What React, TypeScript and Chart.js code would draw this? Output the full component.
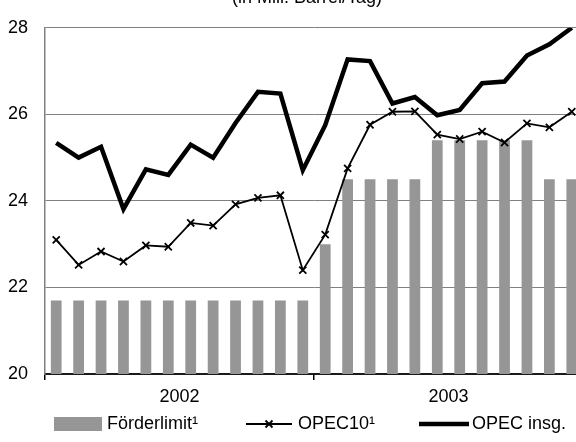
import React, { useEffect, useRef } from 'react';
import { Chart, registerables } from 'chart.js';

Chart.register(...registerables);

const months = [
  'Jan 02', 'Feb 02', 'Mär 02', 'Apr 02', 'Mai 02', 'Jun 02', 'Jul 02', 'Aug 02', 'Sep 02', 'Okt 02', 'Nov 02', 'Dez 02',
  'Jan 03', 'Feb 03', 'Mär 03', 'Apr 03', 'Mai 03', 'Jun 03', 'Jul 03', 'Aug 03', 'Sep 03', 'Okt 03', 'Nov 03', 'Dez 03',
];
const yearLabels = ['2002', '2003'];
const foerderlimit = [
  21.7, 21.7, 21.7, 21.7, 21.7, 21.7, 21.7, 21.7, 21.7, 21.7, 21.7, 21.7,
  23.0, 24.5, 24.5, 24.5, 24.5, 25.4, 25.4, 25.4, 25.4, 25.4, 24.5, 24.5,
];
const opec10 = [
  23.1, 22.52, 22.83, 22.6, 22.97, 22.94, 23.49, 23.43, 23.92, 24.07, 24.13, 22.4,
  23.22, 24.75, 25.76, 26.06, 26.07, 25.53, 25.43, 25.6, 25.35, 25.79, 25.7, 26.06,
];
const opecInsg = [
  25.34, 25.0, 25.25, 23.81, 24.73, 24.6, 25.3, 25.0, 25.8, 26.52, 26.48, 24.71,
  25.75, 27.27, 27.23, 26.25, 26.4, 25.98, 26.1, 26.72, 26.76, 27.36, 27.62, 28.0,
];
const yMin = 20;
const yMax = 28;
const yStep = 2;
const titleText = '(in Mill. Barrel/Tag)';
const legendLabels = ['Förderlimit¹', 'OPEC10¹', 'OPEC insg.'];

const FONT = '"Liberation Sans", Arial, Helvetica, sans-serif';
const FS = 18;
const BAR = '#969696';

const titlePlugin = {
  id: 'customTitle',
  afterDraw(chart: any) {
    const { ctx } = chart;
    ctx.save();
    ctx.font = `${FS}px ${FONT}`;
    ctx.fillStyle = '#000';
    ctx.textAlign = 'center';
    ctx.textBaseline = 'alphabetic';
    ctx.fillText(titleText, 307, 2.5);
    ctx.restore();
  },
};

const legendPlugin = {
  id: 'customLegend',
  afterDraw(chart: any) {
    const { ctx } = chart;
    const y = 424;
    ctx.save();
    ctx.font = `${FS}px ${FONT}`;
    ctx.textAlign = 'left';
    ctx.textBaseline = 'middle';
    ctx.fillStyle = BAR;
    ctx.fillRect(54, y - 7, 48, 14);
    ctx.fillStyle = '#000';
    ctx.fillText(legendLabels[0], 107, y);
    ctx.strokeStyle = '#000';
    ctx.lineWidth = 1.8;
    ctx.beginPath();
    ctx.moveTo(246, y);
    ctx.lineTo(292, y);
    ctx.stroke();
    ctx.beginPath();
    ctx.moveTo(265.5, y - 3.5);
    ctx.lineTo(272.5, y + 3.5);
    ctx.moveTo(272.5, y - 3.5);
    ctx.lineTo(265.5, y + 3.5);
    ctx.stroke();
    ctx.fillText(legendLabels[1], 298, y);
    ctx.lineWidth = 4.5;
    ctx.beginPath();
    ctx.moveTo(419, y);
    ctx.lineTo(469, y);
    ctx.stroke();
    ctx.fillText(legendLabels[2], 472, y);
    ctx.restore();
  },
};

export default function App() {
  const ref = useRef<HTMLCanvasElement | null>(null);

  useEffect(() => {
    if (!ref.current) return;
    const chart = new Chart(ref.current, {
      type: 'bar',
      data: {
        labels: months,
        datasets: [
          {
            type: 'line',
            label: legendLabels[2],
            data: opecInsg,
            borderColor: '#000',
            borderWidth: 4.5,
            pointRadius: 0,
            tension: 0,
            order: 0,
          } as any,
          {
            type: 'line',
            label: legendLabels[1],
            data: opec10,
            borderColor: '#000',
            borderWidth: 1.8,
            pointStyle: 'crossRot',
            pointRadius: 5,
            pointBorderWidth: 1.8,
            pointBorderColor: '#000',
            tension: 0,
            order: 1,
          } as any,
          {
            type: 'bar',
            label: legendLabels[0],
            data: foerderlimit,
            backgroundColor: BAR,
            categoryPercentage: 1,
            barPercentage: 0.48,
            order: 2,
          } as any,
        ],
      },
      options: {
        responsive: false,
        animation: false,
        layout: { padding: { left: 0, right: 17, top: 21, bottom: 0 } },
        plugins: {
          legend: { display: false },
          title: { display: false },
          tooltip: { enabled: false },
        },
        scales: {
          x: {
            type: 'category',
            offset: true,
            afterFit(scale: any) {
              scale.height = 442 - 374;
            },
            ticks: {
              autoSkip: false,
              maxRotation: 0,
              minRotation: 0,
              padding: 6,
              labelOffset: 11.2,
              color: '#000',
              font: { family: FONT, size: FS },
              callback: (_v: any, i: number) => (i === 5 ? yearLabels[0] : i === 17 ? yearLabels[1] : ''),
            },
            grid: {
              offset: true,
              drawOnChartArea: false,
              drawTicks: true,
              tickLength: 6,
              lineWidth: 1.5,
              color: (c: any) => (c.index === 0 || c.index === 12 || c.index === 24 ? '#000' : 'rgba(0,0,0,0)'),
            },
            border: { display: true, color: '#1a1a1a', width: 2 },
          },
          y: {
            min: yMin,
            max: yMax,
            afterFit(scale: any) {
              scale.width = 45;
            },
            ticks: {
              stepSize: yStep,
              padding: 17,
              color: '#000',
              font: { family: FONT, size: FS },
            },
            grid: {
              drawTicks: false,
              lineWidth: 1,
              color: (c: any) => (c.tick && c.tick.value === yMin ? 'rgba(0,0,0,0)' : '#808080'),
            },
            border: { display: true, color: '#808080', width: 1.5 },
          },
        },
      },
      plugins: [titlePlugin, legendPlugin],
    });
    return () => chart.destroy();
  }, []);

  return (
    <div style={{ position: 'fixed', left: 0, top: 0, width: 576, height: 442, overflow: 'hidden', background: '#fff' }}>
      <canvas ref={ref} width={600} height={442} style={{ width: 600, height: 442, display: 'block' }} />
    </div>
  );
}
